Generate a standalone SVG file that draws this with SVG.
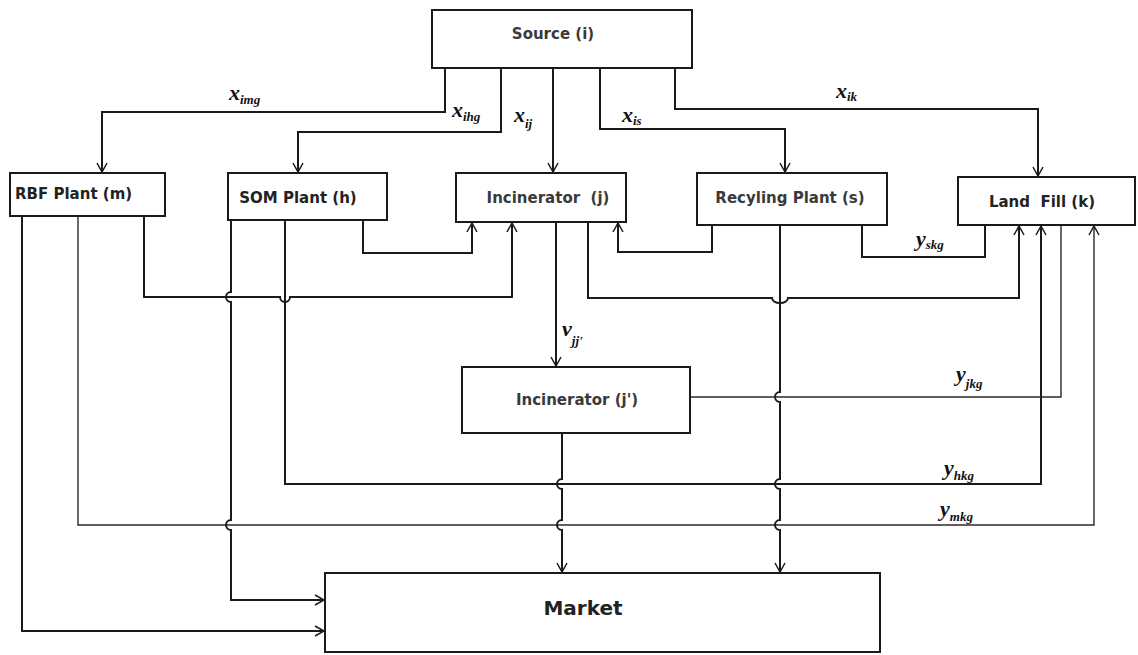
<svg xmlns="http://www.w3.org/2000/svg" width="1138" height="655" viewBox="0 0 1138 655">
<defs>
<style>
.box{fill:#fff;stroke:#1a1a1a;stroke-width:2}
.lbl{font-family:"DejaVu Sans","Liberation Sans",Arial,sans-serif;font-size:15px;font-weight:bold;fill:#222}
.lt{fill:#3a3a3a}
.c{fill:none;stroke:#1a1a1a;stroke-width:2}
.t{fill:none;stroke:#2a2a2a;stroke-width:1.4}
.m{font-family:"Liberation Serif","Times New Roman",serif;font-style:italic;font-weight:bold;fill:#111;font-size:22px}
.s{font-size:13px}
</style>
<marker id="ar" viewBox="-10 -6 12 12" refX="0" refY="0" markerWidth="12" markerHeight="12" markerUnits="userSpaceOnUse" orient="auto">
<path d="M-9,-5 L0,0 L-9,5" fill="none" stroke="#1a1a1a" stroke-width="1.5"/>
</marker>
</defs>
<rect width="1138" height="655" fill="#fff"/>

<g id="connectors">
<path class="c" d="M445,68 V112 H102 V172" marker-end="url(#ar)"/>
<path class="c" d="M501,68 V132 H298 V172" marker-end="url(#ar)"/>
<path class="c" d="M553,68 V172" marker-end="url(#ar)"/>
<path class="c" d="M600,68 V129 H785 V172" marker-end="url(#ar)"/>
<path class="c" d="M675,68 V109 H1038 V176" marker-end="url(#ar)"/>

<path class="c" d="M22,216 V631 H324" marker-end="url(#ar)"/>
<path class="t" d="M78,216 V525 H1094 V226" marker-end="url(#ar)"/>
<path class="c" d="M144,216 V297 H280 A5,5 0 0 0 290,297 H512 V223" marker-end="url(#ar)"/>

<path class="c" d="M231,220 V292 A5,5 0 0 0 231,302 V520 A5,5 0 0 0 231,530 V600 H324" marker-end="url(#ar)"/>
<path class="c" d="M285,220 V484 H1041 V226" marker-end="url(#ar)"/>
<path class="c" d="M363,220 V253 H472 V223" marker-end="url(#ar)"/>

<path class="c" d="M556,222 V366" marker-end="url(#ar)"/>
<path class="c" d="M588,222 V298 H772 A8,5 0 0 0 788,298 H1019 V226" marker-end="url(#ar)"/>

<path class="c" d="M712,225 V252 H618 V223" marker-end="url(#ar)"/>
<path class="c" d="M862,225 V257 H985 V226"/>
<path class="c" d="M780,225 V392 A5,5 0 0 0 780,402 V479 A5,5 0 0 0 780,489 V520 A5,5 0 0 0 780,530 V572" marker-end="url(#ar)"/>

<path class="t" d="M690,397 H1061 V226"/>
<path class="c" d="M562,433 V479 A5,5 0 0 0 562,489 V520 A5,5 0 0 0 562,530 V572" marker-end="url(#ar)"/>
</g>

<g id="source">
<rect class="box" x="432" y="10" width="260" height="58"/>
<text class="lbl lt" x="553" y="39" text-anchor="middle">Source (i)</text>
</g>
<g id="rbf">
<rect class="box" x="10" y="173" width="155" height="43"/>
<text class="lbl" x="15" y="199">RBF Plant (m)</text>
</g>
<g id="som">
<rect class="box" x="228" y="173" width="159" height="47"/>
<text class="lbl" x="298" y="203" text-anchor="middle">SOM Plant (h)</text>
</g>
<g id="incinerator-j">
<rect class="box" x="456" y="173" width="170" height="49"/>
<text class="lbl lt" x="548" y="203" text-anchor="middle" xml:space="preserve">Incinerator  (j)</text>
</g>
<g id="recycling">
<rect class="box" x="697" y="173" width="190" height="52"/>
<text class="lbl lt" x="790" y="203" text-anchor="middle">Recyling Plant (s)</text>
</g>
<g id="landfill">
<rect class="box" x="958" y="177" width="177" height="48"/>
<text class="lbl" x="1042" y="207" text-anchor="middle" xml:space="preserve">Land  Fill (k)</text>
</g>
<g id="incinerator-j2">
<rect class="box" x="462" y="367" width="228" height="66"/>
<text class="lbl lt" x="577" y="405" text-anchor="middle">Incinerator (j')</text>
</g>
<g id="market">
<rect class="box" x="325" y="573" width="555" height="79"/>
<text class="lbl" x="583" y="615" text-anchor="middle" style="font-size:20px">Market</text>
</g>

<g id="labels">
<text class="m" x="229" y="100">x<tspan class="s" dy="4">img</tspan></text>
<text class="m" x="452" y="117">x<tspan class="s" dy="4">ihg</tspan></text>
<text class="m" x="514" y="122">x<tspan class="s" dy="6">ij</tspan></text>
<text class="m" x="622" y="122">x<tspan class="s" dy="3">is</tspan></text>
<text class="m" x="836" y="98">x<tspan class="s" dy="3">ik</tspan></text>
<text class="m" x="562" y="336">v<tspan class="s" dy="9">jj'</tspan></text>
<text class="m" x="916" y="246">y<tspan class="s" dy="3">skg</tspan></text>
<text class="m" x="956" y="381">y<tspan class="s" dy="7">jkg</tspan></text>
<text class="m" x="944" y="475">y<tspan class="s" dy="5">hkg</tspan></text>
<text class="m" x="940" y="516">y<tspan class="s" dy="5">mkg</tspan></text>
</g>
</svg>
